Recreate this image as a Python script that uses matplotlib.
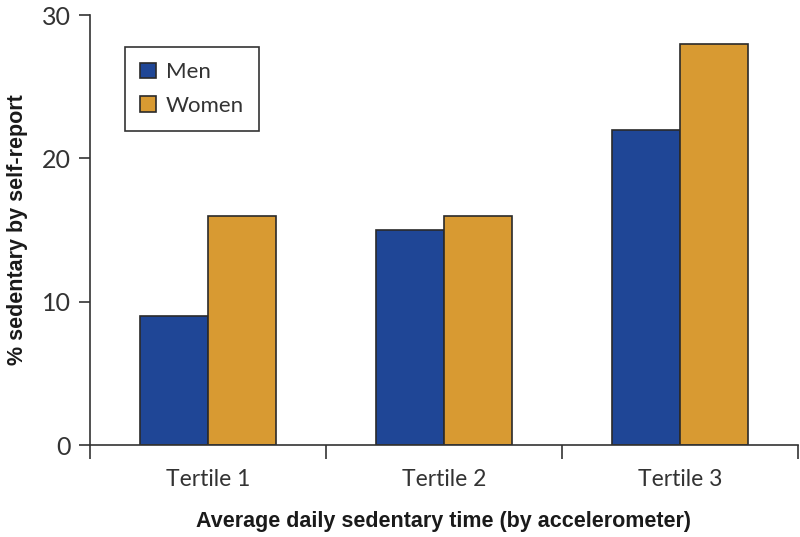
import numpy as np
import matplotlib
matplotlib.use("Agg")
import matplotlib.pyplot as plt

categories = ["Tertile 1", "Tertile 2", "Tertile 3"]
men = [9, 15, 22]
women = [16, 16, 28]
y_ticks = [0, 10, 20, 30]

fig = plt.figure(figsize=(8, 5.37), dpi=100)
ax = fig.add_axes([0.1125, 0.171, 0.885, 0.801])

x = np.arange(len(categories))
w = 0.288
ax.bar(x - w / 2, men, w, color="#1f4696", edgecolor="#2a2a2a", linewidth=1.2, label="Men")
ax.bar(x + w / 2, women, w, color="#d89a32", edgecolor="#2a2a2a", linewidth=1.2, label="Women")

tick_font = dict(family="Lato", fontweight="normal", color="#333333")

ax.set_xlim(-0.5, 2.5)
ax.set_ylim(0, 30)
ax.set_yticks(y_ticks)
ax.set_yticklabels([str(v) for v in y_ticks], fontsize=18, **tick_font)
ax.set_xticks([-0.5, 0.5, 1.5, 2.5])
ax.set_xticklabels([])
ax.set_xticks(x, minor=True)
ax.set_xticklabels(categories, minor=True, fontsize=16.5, **tick_font)
ax.tick_params(axis="x", which="minor", length=0, pad=17)
ax.tick_params(axis="x", which="major", length=10, width=1.2, color="#333333")
ax.tick_params(axis="y", length=8, width=1.2, color="#333333", pad=6)

for s in ["top", "right"]:
    ax.spines[s].set_visible(False)
for s in ["left", "bottom"]:
    ax.spines[s].set_linewidth(1.2)
    ax.spines[s].set_color("#333333")

ax.set_xlabel("Average daily sedentary time (by accelerometer)", family="Liberation Sans",
              fontweight="bold", fontsize=15.5, labelpad=15, color="#1a1a1a")
ax.set_ylabel("% sedentary by self-report", family="Liberation Sans",
              fontweight="bold", fontsize=15.5, labelpad=10, color="#1a1a1a")

leg = ax.legend(loc="upper left", bbox_to_anchor=(0.049, 0.926), fancybox=False, framealpha=1,
                edgecolor="#333333", prop={"family": "Lato", "weight": "normal", "size": 16},
                handlelength=0.7, handleheight=0.7, handletextpad=0.45, borderpad=0.7,
                labelspacing=0.6, borderaxespad=0)
leg.get_frame().set_linewidth(1.2)
for t in leg.get_texts():
    t.set_color("#333333")

fig.savefig("out.png", dpi=100)
